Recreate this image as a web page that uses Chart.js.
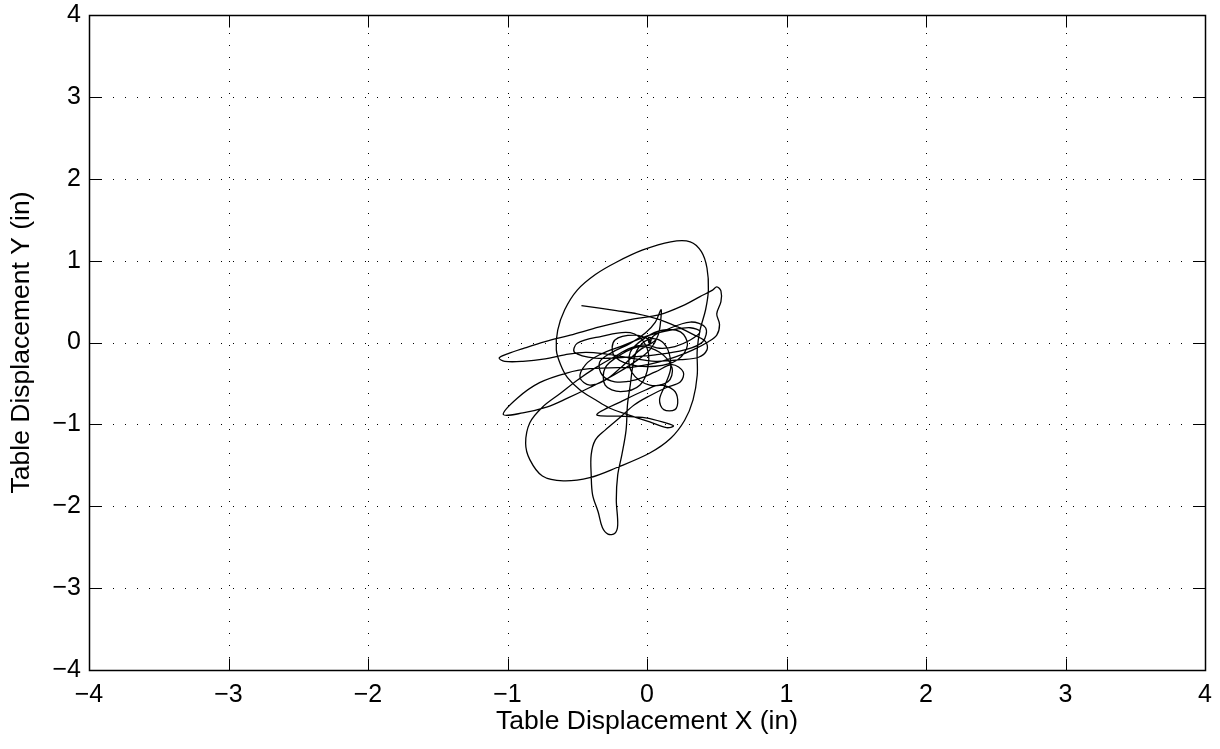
<!DOCTYPE html>
<html><head><meta charset="utf-8">
<script src="https://cdn.jsdelivr.net/npm/chart.js@4.4.1/dist/chart.umd.min.js"></script>
<style>html,body{margin:0;padding:0;background:#fff;overflow:hidden}#wrap{width:1220px;height:749px}</style>
</head><body><div id="wrap"><canvas id="c" width="1220" height="749"></canvas></div>
<script>
const xValues = [-0.47,-0.34,-0.22,-0.07,0.09,0.22,0.34,0.42,0.43,0.37,0.24,0.06,-0.12,-0.30,-0.44,-0.59,-0.73,-0.89,-1.02,-1.06,
 -1.00,-0.88,-0.73,-0.55,-0.34,-0.12,0.09,0.27,0.38,0.47,0.50,0.53,0.53,0.50,0.52,0.50,0.44,0.33,0.20,0.06,
 -0.10,-0.27,-0.41,-0.57,-0.77,-0.93,-1.03,-0.89,-0.72,-0.57,-0.41,-0.24,-0.09,0.02,0.08,0.10,0.10,0.06,-0.01,-0.12,
 -0.25,-0.34,-0.32,-0.23,-0.09,0.06,0.18,0.26,0.24,0.14,0.02,-0.09,-0.19,-0.30,-0.37,-0.40,-0.40,-0.39,-0.35,-0.32,
 -0.28,-0.23,-0.21,-0.22,-0.21,-0.18,-0.15,-0.14,-0.12,-0.10,-0.07,0.00,0.09,0.15,0.17,0.13,0.09,0.12,0.20,0.22,
 0.19,0.09,-0.01,-0.16,-0.36,-0.19,-0.01,0.13,0.19,0.14,0.02,-0.14,-0.27,-0.37,-0.48,-0.57,-0.62,-0.65,-0.64,-0.59,
 -0.50,-0.37,-0.22,-0.03,0.17,0.31,0.39,0.43,0.44,0.42,0.38,0.36,0.36,0.33,0.27,0.17,0.02,-0.22,-0.41,-0.60,
 -0.75,-0.84,-0.87,-0.84,-0.75,-0.62,-0.50,-0.37,-0.24,-0.12,-0.01,0.09,0.20,0.31,0.38,0.31,0.17,0.02,-0.16,-0.34,
 -0.44,-0.48,-0.41,-0.30,-0.19,-0.05,0.06,0.01,0.02,0.04,
 0.13,0.31,0.42,0.40,0.27,0.06,-0.16,-0.37,-0.52,-0.50,-0.34,-0.12,-0.01,0.01,-0.05,-0.19,-0.30,-0.30,-0.19,-0.05,
 0.09,0.18,0.15,0.02,-0.11,-0.12,-0.01,0.11,0.24,0.29,0.22,0.06,-0.12,-0.24,-0.23,-0.09,0.02,0.01];
const yValues = [0.45,0.42,0.39,0.35,0.28,0.19,0.09,0.01,-0.09,-0.18,-0.21,-0.23,-0.19,-0.14,-0.12,-0.15,-0.20,-0.23,-0.23,-0.19,
 -0.14,-0.07,0.01,0.09,0.19,0.28,0.34,0.46,0.56,0.64,0.68,0.63,0.50,0.35,0.22,0.09,0.01,-0.09,-0.18,-0.25,
 -0.30,-0.31,-0.32,-0.37,-0.49,-0.68,-0.88,-0.86,-0.79,-0.68,-0.55,-0.40,-0.24,-0.09,0.09,0.30,0.40,0.25,0.12,-0.01,
 -0.12,-0.24,-0.40,-0.48,-0.46,-0.36,-0.27,-0.36,-0.48,-0.55,-0.65,-0.76,-0.91,-1.07,-1.19,-1.37,-1.62,-1.86,-2.07,-2.26,
 -2.34,-2.33,-2.23,-1.92,-1.62,-1.37,-1.07,-0.76,-0.52,-0.27,-0.09,0.03,0.03,-0.09,-0.31,-0.52,-0.70,-0.82,-0.82,-0.70,
 -0.58,-0.52,-0.58,-0.70,-0.88,-0.90,-0.92,-0.98,-1.02,-1.04,-0.97,-0.88,-0.80,-0.70,-0.58,-0.43,-0.27,-0.09,0.15,0.40,
 0.64,0.83,0.98,1.13,1.23,1.23,1.11,0.91,0.64,0.40,0.15,-0.09,-0.40,-0.70,-0.95,-1.17,-1.35,-1.53,-1.65,-1.69,
 -1.63,-1.43,-1.23,-0.98,-0.79,-0.62,-0.46,-0.31,-0.18,-0.07,-0.03,-0.07,-0.05,0.03,0.13,0.18,0.15,0.09,-0.03,-0.15,
 -0.27,-0.43,-0.52,-0.46,-0.31,-0.09,0.03,0.06,-0.02,0.07,
 0.15,0.25,0.18,0.01,-0.09,-0.15,-0.18,-0.19,-0.12,-0.01,0.07,0.12,-0.03,-0.27,-0.52,-0.60,-0.52,-0.31,-0.15,-0.05,
 -0.12,-0.31,-0.48,-0.52,-0.36,-0.12,0.06,0.15,0.13,-0.03,-0.21,-0.29,-0.27,-0.15,0.03,0.09,0.03,-0.01];
const xTicks = [-4,-3,-2,-1,0,1,2,3,4];
const yTicks = [-4,-3,-2,-1,0,1,2,3,4];
const xTitle = 'Table Displacement X (in)';
const yTitle = 'Table Displacement Y (in)';

const points = xValues.map((x,i)=>({x:x, y:yValues[i]}));
const fmt = v => (v<0 ? '\u2212'+Math.abs(v) : String(v));
const FONT = 'Liberation Sans, Arial, Helvetica, sans-serif';

const frame = {
  id:'frame',
  beforeDatasetsDraw(chart){
    const {ctx, chartArea:a, scales:{x,y}} = chart;
    ctx.save();
    ctx.strokeStyle = '#000'; ctx.lineWidth = 1; ctx.setLineDash([1,11]);
    xTicks.forEach(v=>{ if(v===xTicks[0]||v===xTicks[xTicks.length-1]) return;
      const p = Math.round(x.getPixelForValue(v))+0.5;
      ctx.beginPath(); ctx.moveTo(p,a.bottom); ctx.lineTo(p,a.top); ctx.stroke(); });
    yTicks.forEach(v=>{ if(v===yTicks[0]||v===yTicks[yTicks.length-1]) return;
      const p = Math.round(y.getPixelForValue(v))+0.5;
      ctx.beginPath(); ctx.moveTo(a.left,p); ctx.lineTo(a.right,p); ctx.stroke(); });
    ctx.restore();
  },
  afterDatasetsDraw(chart){
    const {ctx, chartArea:a, scales:{x,y}} = chart;
    ctx.save();
    ctx.strokeStyle = '#000'; ctx.lineWidth = 1; ctx.setLineDash([]);
    const L = Math.round(a.left)+0.5, R = Math.round(a.right)+0.5, T = Math.round(a.top)+0.5, B = Math.round(a.bottom)+0.5;
    const tl = 12;
    ctx.beginPath();
    xTicks.forEach(v=>{ const p = Math.round(x.getPixelForValue(v))+0.5;
      ctx.moveTo(p,B); ctx.lineTo(p,B-tl); ctx.moveTo(p,T); ctx.lineTo(p,T+tl); });
    yTicks.forEach(v=>{ const p = Math.round(y.getPixelForValue(v))+0.5;
      ctx.moveTo(L,p); ctx.lineTo(L+tl,p); ctx.moveTo(R,p); ctx.lineTo(R-tl,p); });
    ctx.stroke();
    ctx.lineWidth = 1.5;
    ctx.strokeRect(L,T,R-L,B-T);
    ctx.restore();
  }
};

new Chart(document.getElementById('c'), {
  type:'scatter',
  data:{datasets:[{data:points, showLine:true, borderColor:'#000', borderWidth:1.3, pointRadius:0, tension:0.35, fill:false}]},
  options:{
    responsive:false, animation:false, devicePixelRatio:1,
    layout:{padding:{top:15,right:15,left:0,bottom:0}},
    plugins:{legend:{display:false}, tooltip:{enabled:false}},
    scales:{
      x:{type:'linear', min:-4, max:4,
        afterBuildTicks:s=>{s.ticks = xTicks.map(v=>({value:v}));},
        afterFit:s=>{s.height = 79; s.paddingLeft = 0; s.paddingRight = 0;},
        grid:{display:false, drawTicks:false}, border:{display:false},
        ticks:{callback:fmt, color:'#000', font:{family:FONT, size:25}, padding:10, maxRotation:0, autoSkip:false},
        title:{display:true, text:xTitle, color:'#000', font:{family:FONT, size:26.5}, padding:{top:0,bottom:11}}},
      y:{type:'linear', min:-4, max:4,
        afterBuildTicks:s=>{s.ticks = yTicks.map(v=>({value:v}));},
        afterFit:s=>{s.width = 89; s.paddingTop = 0; s.paddingBottom = 0;},
        grid:{display:false, drawTicks:false}, border:{display:false},
        ticks:{callback:fmt, color:'#000', font:{family:FONT, size:25}, padding:8, autoSkip:false},
        title:{display:true, text:yTitle, color:'#000', font:{family:FONT, size:26.5}, padding:{top:6,bottom:0}}}
    }
  },
  plugins:[frame]
});
</script>
</body></html>
